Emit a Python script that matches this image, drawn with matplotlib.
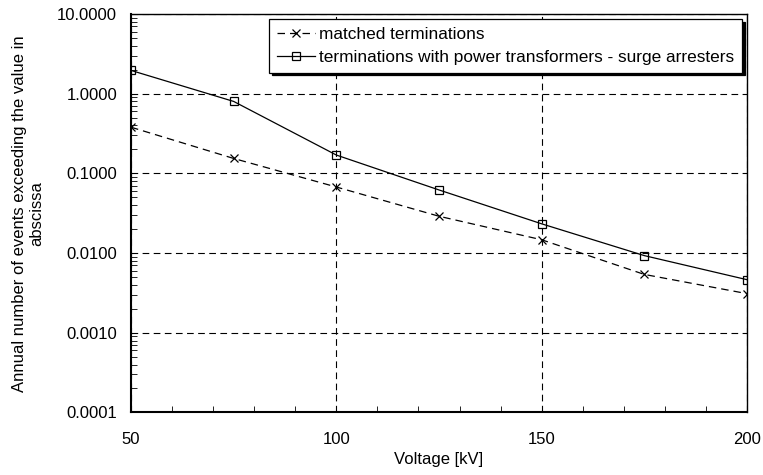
import numpy as np
import matplotlib
matplotlib.use("Agg")
import matplotlib.pyplot as plt
from matplotlib.ticker import FixedLocator, FuncFormatter, LogLocator, NullFormatter

plt.rcParams['font.family'] = ['Liberation Sans', 'DejaVu Sans']
plt.rcParams['font.size'] = 12

# Voltage [kV]
voltage = [50, 75, 100, 125, 150, 175, 200]
# annual number of events exceeding the value
matched = [0.38, 0.154, 0.0675, 0.029, 0.0147, 0.0054, 0.0031]
transformers = [1.96, 0.80, 0.17, 0.062, 0.0233, 0.0093, 0.00464]

label_matched = "matched terminations"
label_transf = "terminations with power transformers - surge arresters"

fig = plt.figure(figsize=(7.63, 4.75), dpi=100)
ax = fig.add_axes([0.1717, 0.1316, 0.8073, 0.8389])

ax.plot(voltage, matched, color='black', linestyle=(0, (6, 4)), linewidth=0.9,
        marker='x', markersize=6, markeredgewidth=0.9, label=label_matched)
ax.plot(voltage, transformers, color='black', linestyle='-', linewidth=0.9,
        marker='s', markersize=5.5, markerfacecolor='none', markeredgewidth=0.9,
        label=label_transf)

ax.set_yscale('log')
ax.set_xlim(50, 200)
ax.set_ylim(0.0001, 10)

ax.xaxis.set_major_locator(FixedLocator([50, 100, 150, 200]))
ax.xaxis.set_minor_locator(FixedLocator(np.arange(60, 200, 10)))
ax.yaxis.set_major_locator(LogLocator(base=10, numticks=10))
ax.yaxis.set_major_formatter(FuncFormatter(lambda v, p: f"{v:.4f}"))
ax.yaxis.set_minor_locator(LogLocator(base=10, subs=np.arange(2, 10), numticks=20))
ax.yaxis.set_minor_formatter(NullFormatter())

ax.tick_params(which='both', direction='in', top=False, right=False, colors='black')
ax.tick_params(axis='x', which='major', length=0, pad=14)
ax.tick_params(axis='x', which='minor', length=4)
ax.tick_params(axis='y', which='major', length=0, pad=10)
ax.tick_params(axis='y', which='minor', length=4)

ax.grid(True, which='major', color='black', linestyle=(0, (6, 4)), linewidth=0.8)
for s in ax.spines.values():
    s.set_linewidth(1.0)
    s.set_color('black')
ax.spines['left'].set_linewidth(1.5)
ax.spines['bottom'].set_linewidth(1.5)

ax.set_xlabel("Voltage [kV]", labelpad=4)
ax.set_ylabel("Annual number of events exceeding the value in\nabscissa", labelpad=9)

leg = ax.legend(loc='upper right', fancybox=False, frameon=True, handlelength=2.2,
                fontsize=12.4, borderaxespad=0.3, handletextpad=0.25, borderpad=0.45,
                labelspacing=0.45, shadow={'color': 'black', 'alpha': 1.0})
leg.get_frame().set_edgecolor('black')
leg.get_frame().set_linewidth(0.9)
leg.get_frame().set_alpha(1.0)

fig.savefig("out.png", dpi=100)
